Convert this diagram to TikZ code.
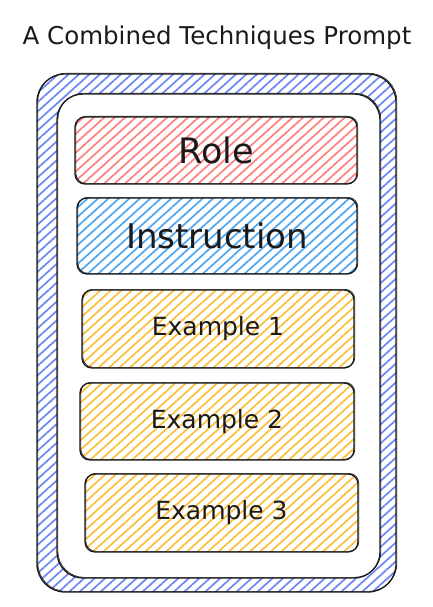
\documentclass[tikz,border=0pt]{standalone}
\usepackage{fontspec}
\setmainfont{DejaVu Sans}
\usetikzlibrary{patterns.meta}

\definecolor{hatchframe}{HTML}{6C86F5}
\definecolor{hatchrole}{HTML}{FF7F7F}
\definecolor{hatchinstr}{HTML}{4DA6F2}
\definecolor{hatchexample}{HTML}{FBBF3A}
\definecolor{ink}{HTML}{1A1A1A}

\tikzset{
  sketch/.style={draw=ink, line width=1.3pt,
    postaction={draw=ink, line width=0.6pt,
      transform canvas={shift={(0.9pt,0.7pt)}}}},
  hatch/.style={pattern={Lines[angle=42, distance=7pt, line width=1.7pt]},
    pattern color=#1},
  card/.style={sketch, hatch=#1, rounded corners=10pt, inner sep=0pt,
    text=ink},
  bigtext/.style={font=\fontsize{#1}{#1}\selectfont},
}

\begin{document}
\begin{tikzpicture}[x=1pt, y=-1pt]
\useasboundingbox (0,0) rectangle (432,607);

% heading
\node[bigtext=24.5, text=ink] (title) at (217,38) {A Combined Techniques Prompt};

% outer hatched frame and the white panel inside it
\node[sketch, hatch=hatchframe, rounded corners=28pt, inner sep=0pt,
      minimum width=359pt, minimum height=518pt] (frame) at (216.5,333) {};
\node[sketch, fill=white, rounded corners=26pt, inner sep=0pt,
      minimum width=323pt, minimum height=484pt] (panel) at (218.5,336) {};

% stacked prompt sections
\node[card=hatchrole, minimum width=282pt, minimum height=67pt,
      bigtext=35] (role) at (216,150.5) {Role};
\node[card=hatchinstr, minimum width=280pt, minimum height=76pt,
      bigtext=34] (instr) at (217,236) {Instruction};
\node[card=hatchexample, minimum width=272pt, minimum height=78pt,
      bigtext=25] (ex1) at (218,329) {Example 1};
\node[card=hatchexample, minimum width=274pt, minimum height=77pt,
      bigtext=25] (ex2) at (217,421.5) {Example 2};
\node[card=hatchexample, minimum width=273pt, minimum height=78pt,
      bigtext=25] (ex3) at (221.5,513) {Example 3};
\end{tikzpicture}
\end{document}
